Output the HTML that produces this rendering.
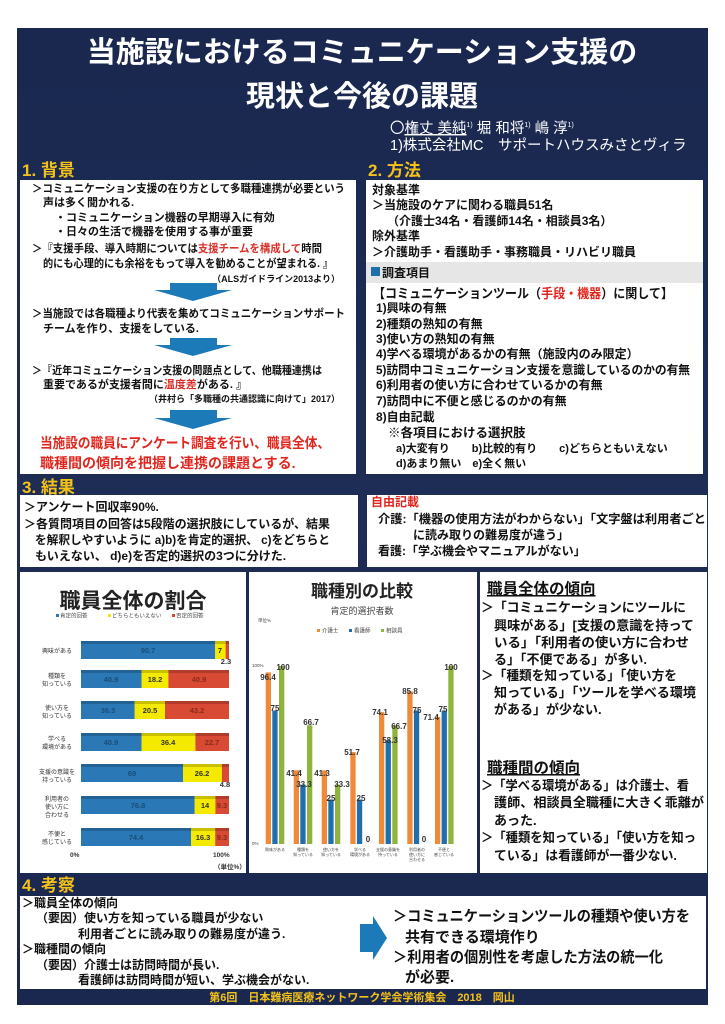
<!DOCTYPE html>
<html><head><meta charset="utf-8"><style>
html,body{margin:0;padding:0;background:#fff;}
svg{display:block;}
text{font-family:"Liberation Sans","Noto Sans CJK JP",sans-serif;}
.b{font-weight:bold;}
</style></head><body>
<svg width="725" height="1024" viewBox="0 0 725 1024" xmlns="http://www.w3.org/2000/svg">
<defs>
<linearGradient id="nv" x1="0" y1="0" x2="0" y2="1">
<stop offset="0" stop-color="#1a2850"/><stop offset="0.5" stop-color="#1e2d55"/><stop offset="1" stop-color="#1a2850"/>
</linearGradient>
</defs>
<rect x="0" y="0" width="725" height="1024" fill="#fff"/>
<rect x="17" y="28" width="691" height="977" fill="url(#nv)"/>

<!-- Title -->
<text x="362" y="62" font-size="29" fill="#fff" text-anchor="middle" class="b">当施設におけるコミュニケーション支援の</text>
<text x="362" y="106" font-size="29" fill="#fff" text-anchor="middle" class="b">現状と今後の課題</text>
<text x="390" y="133" font-size="14.5" fill="#fff">〇<tspan text-decoration="underline">権丈 美純</tspan><tspan font-size="7" dy="-6">1)</tspan><tspan dy="6"> 堀 和将</tspan><tspan font-size="7" dy="-6">1)</tspan><tspan dy="6"> 嶋 淳</tspan><tspan font-size="7" dy="-6">1)</tspan></text>
<text x="390" y="150" font-size="14.5" fill="#fff">1)株式会社MC　サポートハウスみさとヴィラ</text>

<!-- Section headers -->
<g fill="#f5c21a" font-size="17" class="b">
<text x="22" y="176">1. 背景</text>
<text x="368" y="176">2. 方法</text>
<text x="22" y="493">3. 結果</text>
<text x="22" y="891">4. 考察</text>
</g>

<!-- Section 1 box -->
<rect x="20" y="180" width="336" height="294" fill="#fff"/>
<g font-size="11" fill="#111" class="b">
<text x="32" y="192" textLength="313" lengthAdjust="spacingAndGlyphs">＞コミュニケーション支援の在り方として多職種連携が必要という</text>
<text x="43" y="206">声は多く聞かれる.</text>
<text x="55" y="221">・コミュニケーション機器の早期導入に有効</text>
<text x="55" y="235">・日々の生活で機器を使用する事が重要</text>
<text x="32" y="252" textLength="290" lengthAdjust="spacingAndGlyphs">＞『支援手段、導入時期については<tspan fill="#d9302a">支援チームを構成して</tspan>時間</text>
<text x="43" y="267" textLength="290" lengthAdjust="spacingAndGlyphs">的にも心理的にも余裕をもって導入を勧めることが望まれる. 』</text>
<text x="340" y="282" font-size="9" text-anchor="end">（ALSガイドライン2013より）</text>
<text x="32" y="317" textLength="313" lengthAdjust="spacingAndGlyphs">＞当施設では各職種より代表を集めてコミュニケーションサポート</text>
<text x="43" y="332">チームを作り、支援をしている.</text>
<text x="32" y="374" textLength="290" lengthAdjust="spacingAndGlyphs">＞『近年コミュニケーション支援の問題点として、他職種連携は</text>
<text x="43" y="388">重要であるが支援者間に<tspan fill="#d9302a">温度差</tspan>がある. 』</text>
<text x="340" y="402" font-size="9" text-anchor="end">（井村ら「多職種の共通認識に向けて」2017）</text>
<text x="40" y="448" font-size="14" fill="#e0261e" textLength="290" lengthAdjust="spacingAndGlyphs">当施設の職員にアンケート調査を行い、職員全体、</text>
<text x="40" y="468" font-size="14" fill="#e0261e">職種間の傾向を把握し連携の課題とする.</text>
</g>
<g fill="#1c7ab8">
<polygon points="170,283 217,283 217,290 232,290 193,301 154,290 170,290"/>
<polygon points="170,338 217,338 217,345 232,345 193,356 154,345 170,345"/>
<polygon points="170,410 217,410 217,418 232,418 193,429 154,418 170,418"/>
</g>

<!-- Section 2 box -->
<rect x="366" y="180" width="337" height="294" fill="#fff"/>
<rect x="366" y="262" width="337" height="21" fill="#e6e6e6"/>
<rect x="371" y="267" width="9" height="9" fill="#1f6fa8"/>
<g font-size="12" fill="#111" class="b">
<text x="372" y="194">対象基準</text>
<text x="372" y="209">＞当施設のケアに関わる職員51名</text>
<text x="387" y="225">（介護士34名・看護師14名・相談員3名）</text>
<text x="372" y="240">除外基準</text>
<text x="372" y="256">＞介護助手・看護助手・事務職員・リハビリ職員</text>
<text x="382" y="277">調査項目</text>
<text x="373" y="298" font-size="13" textLength="300" lengthAdjust="spacingAndGlyphs">【コミュニケーションツール（<tspan fill="#e0261e">手段・機器</tspan>）に関して】</text>
<text x="376" y="312">1)興味の有無</text>
<text x="376" y="328">2)種類の熟知の有無</text>
<text x="376" y="343">3)使い方の熟知の有無</text>
<text x="376" y="358">4)学べる環境があるかの有無（施設内のみ限定）</text>
<text x="376" y="374" textLength="314" lengthAdjust="spacingAndGlyphs">5)訪問中コミュニケーション支援を意識しているのかの有無</text>
<text x="376" y="389">6)利用者の使い方に合わせているかの有無</text>
<text x="376" y="405">7)訪問中に不便と感じるのかの有無</text>
<text x="376" y="421">8)自由記載</text>
<text x="388" y="437" font-size="12.5">※各項目における選択肢</text>
<text x="396" y="452" font-size="11">a)大変有り　　b)比較的有り　　c)どちらともいえない</text>
<text x="396" y="467" font-size="11">d)あまり無い　e)全く無い</text>
</g>

<!-- Section 3 boxes -->
<rect x="20" y="495" width="338" height="72" fill="#fff"/>
<rect x="367" y="495" width="340" height="72" fill="#fff"/>
<g font-size="12" fill="#111" class="b">
<text x="24" y="511">＞アンケート回収率90%.</text>
<text x="24" y="528" textLength="306" lengthAdjust="spacingAndGlyphs">＞各質問項目の回答は5段階の選択肢にしているが、結果</text>
<text x="35" y="544" textLength="295" lengthAdjust="spacingAndGlyphs">を解釈しやすいように a)b)を肯定的選択、 c)をどちらと</text>
<text x="35" y="560">もいえない、 d)e)を否定的選択の3つに分けた.</text>
<text x="371" y="506" fill="#e0261e">自由記載</text>
<text x="378" y="523" textLength="328" lengthAdjust="spacingAndGlyphs">介護:「機器の使用方法がわからない」「文字盤は利用者ごと</text>
<text x="413" y="539">に読み取りの難易度が違う」</text>
<text x="378" y="555">看護:「学ぶ機会やマニュアルがない」</text>
</g>

<!-- Chart panels -->
<rect x="20" y="572" width="226" height="301" fill="#fff"/>
<rect x="249" y="572" width="228" height="301" fill="#fff"/>
<rect x="480" y="572" width="227" height="301" fill="#fff"/>

<!-- Chart 1 -->
<text x="133" y="608" font-size="21" text-anchor="middle" fill="#222" class="b">職員全体の割合</text>
<g font-size="5.5" fill="#444">
<rect x="56" y="614" width="3" height="3" fill="#2a78b5"/><text x="60" y="617.5">肯定的回答</text>
<rect x="108" y="614" width="3" height="3" fill="#f3ea00"/><text x="112" y="617.5">どちらともいえない</text>
<rect x="172" y="614" width="3" height="3" fill="#d94a35"/><text x="176" y="617.5">否定的回答</text>
</g>
<g font-size="6" fill="#333" text-anchor="middle">
<text x="57" y="653">興味がある</text>
<text x="57" y="678">種類を</text><text x="57" y="686">知っている</text>
<text x="57" y="710">使い方を</text><text x="57" y="718">知っている</text>
<text x="57" y="741">学べる</text><text x="57" y="749">環境がある</text>
<text x="57" y="774">支援の意識を</text><text x="57" y="782">持っている</text>
<text x="57" y="801">利用者の</text><text x="57" y="809">使い方に</text><text x="57" y="817">合わせる</text>
<text x="57" y="836">不便と</text><text x="57" y="844">感じている</text>
</g>
<g font-size="7.5" class="b" text-anchor="middle">
<rect x="81" y="641" width="134.2" height="18" fill="#2a78b5"/><rect x="215.2" y="641" width="10.4" height="18" fill="#f3ea00"/><rect x="225.6" y="641" width="3.4" height="18" fill="#d94a35"/>
<rect x="81" y="641" width="148" height="3" fill="#000" opacity="0.18"/>
<text x="148" y="653" fill="#1a4e7a">90.7</text><text x="220" y="653" fill="#333">7</text><text x="226" y="664" fill="#333">2.3</text>
<rect x="81" y="670" width="60.5" height="18" fill="#2a78b5"/><rect x="141.5" y="670" width="26.9" height="18" fill="#f3ea00"/><rect x="168.4" y="670" width="60.6" height="18" fill="#d94a35"/>
<rect x="81" y="670" width="148" height="3" fill="#000" opacity="0.18"/>
<text x="111" y="682" fill="#1a4e7a">40.9</text><text x="155" y="682" fill="#333">18.2</text><text x="199" y="682" fill="#8a2a1a">40.9</text>
<rect x="81" y="701" width="53.7" height="18" fill="#2a78b5"/><rect x="134.7" y="701" width="30.3" height="18" fill="#f3ea00"/><rect x="165" y="701" width="64" height="18" fill="#d94a35"/>
<rect x="81" y="701" width="148" height="3" fill="#000" opacity="0.18"/>
<text x="108" y="713" fill="#1a4e7a">36.3</text><text x="150" y="713" fill="#333">20.5</text><text x="197" y="713" fill="#8a2a1a">43.2</text>
<rect x="81" y="733" width="60.5" height="18" fill="#2a78b5"/><rect x="141.5" y="733" width="53.9" height="18" fill="#f3ea00"/><rect x="195.4" y="733" width="33.6" height="18" fill="#d94a35"/>
<rect x="81" y="733" width="148" height="3" fill="#000" opacity="0.18"/>
<text x="111" y="745" fill="#1a4e7a">40.9</text><text x="168" y="745" fill="#333">36.4</text><text x="212" y="745" fill="#8a2a1a">22.7</text>
<rect x="81" y="764" width="102.1" height="18" fill="#2a78b5"/><rect x="183.1" y="764" width="38.8" height="18" fill="#f3ea00"/><rect x="221.9" y="764" width="7.1" height="18" fill="#d94a35"/>
<rect x="81" y="764" width="148" height="3" fill="#000" opacity="0.18"/>
<text x="132" y="776" fill="#1a4e7a">69</text><text x="202" y="776" fill="#333">26.2</text><text x="225" y="787" fill="#333">4.8</text>
<rect x="81" y="796" width="113.7" height="18" fill="#2a78b5"/><rect x="194.7" y="796" width="20.7" height="18" fill="#f3ea00"/><rect x="215.4" y="796" width="13.6" height="18" fill="#d94a35"/>
<rect x="81" y="796" width="148" height="3" fill="#000" opacity="0.18"/>
<text x="138" y="808" fill="#1a4e7a">76.8</text><text x="205" y="808" fill="#333">14</text><text x="222" y="808" fill="#8a2a1a">9.3</text>
<rect x="81" y="828" width="110.1" height="18" fill="#2a78b5"/><rect x="191.1" y="828" width="24.1" height="18" fill="#f3ea00"/><rect x="215.2" y="828" width="13.8" height="18" fill="#d94a35"/>
<rect x="81" y="828" width="148" height="3" fill="#000" opacity="0.18"/>
<text x="136" y="840" fill="#1a4e7a">74.4</text><text x="203" y="840" fill="#333">16.3</text><text x="222" y="840" fill="#8a2a1a">9.3</text>
</g>
<g font-size="6.5" fill="#333" class="b">
<text x="70" y="857">0%</text>
<text x="213" y="857">100%</text>
<text x="214" y="869">（単位%）</text>
</g>

<!-- Chart 2 -->
<text x="362" y="597" font-size="17" text-anchor="middle" fill="#222" class="b">職種別の比較</text>
<text x="362" y="614" font-size="9" text-anchor="middle" fill="#444">肯定的選択者数</text>
<text x="258" y="622" font-size="4.5" fill="#444">単位%</text>
<g font-size="5.5" fill="#444">
<rect x="317" y="629" width="3" height="3" fill="#ee8a3a"/><text x="322" y="632.5">介護士</text>
<rect x="349" y="629" width="3" height="3" fill="#1f6fae"/><text x="354" y="632.5">看護師</text>
<rect x="381" y="629" width="3" height="3" fill="#8fb33c"/><text x="386" y="632.5">相談員</text>
</g>
<text x="252" y="667" font-size="4.5" fill="#444">100%</text>
<text x="252" y="845" font-size="4.5" fill="#444">0%</text>
<g>
<rect x="265.7" y="672.4" width="5.3" height="171.6" fill="#ee8a3a"/><rect x="272.3" y="710.5" width="5.3" height="133.5" fill="#1f6fae"/><rect x="279" y="666" width="5.3" height="178" fill="#8fb33c"/>
<rect x="293.7" y="770.3" width="5.3" height="73.7" fill="#ee8a3a"/><rect x="300.3" y="784.7" width="5.3" height="59.3" fill="#1f6fae"/><rect x="307" y="725.3" width="5.3" height="118.7" fill="#8fb33c"/>
<rect x="321.7" y="770.5" width="5.3" height="73.5" fill="#ee8a3a"/><rect x="328.3" y="799.5" width="5.3" height="44.5" fill="#1f6fae"/><rect x="335" y="784.7" width="5.3" height="59.3" fill="#8fb33c"/>
<rect x="350.3" y="752" width="5.3" height="92" fill="#ee8a3a"/><rect x="356.9" y="799.5" width="5.3" height="44.5" fill="#1f6fae"/>
<rect x="379" y="712.1" width="5.3" height="131.9" fill="#ee8a3a"/><rect x="385.6" y="740.2" width="5.3" height="103.8" fill="#1f6fae"/><rect x="392.3" y="725.3" width="5.3" height="118.7" fill="#8fb33c"/>
<rect x="407.3" y="691.3" width="5.3" height="152.7" fill="#ee8a3a"/><rect x="413.9" y="710.5" width="5.3" height="133.5" fill="#1f6fae"/>
<rect x="435" y="716.9" width="5.3" height="127.1" fill="#ee8a3a"/><rect x="441.6" y="710.5" width="5.3" height="133.5" fill="#1f6fae"/><rect x="448.3" y="666" width="5.3" height="178" fill="#8fb33c"/>
</g>
<g font-size="8" fill="#333" class="b" text-anchor="middle">
<text x="268" y="680">96.4</text><text x="275" y="711">75</text><text x="283" y="670">100</text>
<text x="294" y="776">41.4</text><text x="304" y="787">33.3</text><text x="311" y="725">66.7</text>
<text x="322" y="776">41.3</text><text x="331" y="801">25</text><text x="342" y="787">33.3</text>
<text x="352" y="755">51.7</text><text x="361" y="801">25</text><text x="368" y="842">0</text>
<text x="380" y="715">74.1</text><text x="390" y="743">58.3</text><text x="399" y="729">66.7</text>
<text x="410" y="694">85.8</text><text x="417" y="713">75</text><text x="424" y="842">0</text>
<text x="431" y="720">71.4</text><text x="443" y="712">75</text><text x="451" y="670">100</text>
</g>
<g font-size="4" fill="#444" text-anchor="middle">
<text x="275" y="851">興味がある</text>
<text x="303" y="851">種類を</text><text x="303" y="856">知っている</text>
<text x="331" y="851">使い方を</text><text x="331" y="856">知っている</text>
<text x="360" y="851">学べる</text><text x="360" y="856">環境がある</text>
<text x="388" y="851">支援の意識を</text><text x="388" y="856">持っている</text>
<text x="417" y="851">利用者の</text><text x="417" y="856">使い方に</text><text x="417" y="861">合わせる</text>
<text x="444" y="851">不便と</text><text x="444" y="856">感じている</text>
</g>

<!-- Panel 3 -->
<g fill="#111" class="b">
<text x="487" y="594" font-size="15.5" text-decoration="underline">職員全体の傾向</text>
<g font-size="13">
<text x="481" y="612" textLength="205" lengthAdjust="spacingAndGlyphs">＞「コミュニケーションにツールに</text>
<text x="494" y="630" textLength="200" lengthAdjust="spacingAndGlyphs">興味がある」[支援の意識を持って</text>
<text x="494" y="647" textLength="195" lengthAdjust="spacingAndGlyphs">いる」「利用者の使い方に合わせ</text>
<text x="494" y="664">る」「不便である」が多い.</text>
<text x="481" y="680" textLength="196" lengthAdjust="spacingAndGlyphs">＞「種類を知っている」「使い方を</text>
<text x="494" y="697" textLength="202" lengthAdjust="spacingAndGlyphs">知っている」「ツールを学べる環境</text>
<text x="494" y="714">がある」が少ない.</text>
</g>
<text x="487" y="773" font-size="15.5" text-decoration="underline">職種間の傾向</text>
<g font-size="13">
<text x="481" y="790" textLength="208" lengthAdjust="spacingAndGlyphs">＞「学べる環境がある」は介護士、看</text>
<text x="494" y="807" textLength="210" lengthAdjust="spacingAndGlyphs">護師、相談員全職種に大きく乖離が</text>
<text x="494" y="825">あった.</text>
<text x="481" y="842" textLength="215" lengthAdjust="spacingAndGlyphs">＞「種類を知っている」「使い方を知っ</text>
<text x="494" y="860" textLength="183" lengthAdjust="spacingAndGlyphs">ている」は看護師が一番少ない.</text>
</g>
</g>

<!-- Section 4 -->
<rect x="20" y="896" width="686" height="93" fill="#fff"/>
<g fill="#111" class="b" font-size="12">
<text x="22" y="907">＞職員全体の傾向</text>
<text x="36" y="922">（要因）使い方を知っている職員が少ない</text>
<text x="78" y="938">利用者ごとに読み取りの難易度が違う.</text>
<text x="22" y="953">＞職種間の傾向</text>
<text x="36" y="969">（要因）介護士は訪問時間が長い.</text>
<text x="78" y="984">看護師は訪問時間が短い、学ぶ機会がない.</text>
</g>
<polygon points="360,924 373,924 373,916 387,938 373,960 373,952 360,952" fill="#1c7ab8"/>
<g fill="#111" class="b" font-size="15">
<text x="393" y="921" textLength="297" lengthAdjust="spacingAndGlyphs">＞コミュニケーションツールの種類や使い方を</text>
<text x="405" y="942">共有できる環境作り</text>
<text x="393" y="962" textLength="270" lengthAdjust="spacingAndGlyphs">＞利用者の個別性を考慮した方法の統一化</text>
<text x="405" y="982">が必要.</text>
</g>
<text x="362" y="1001" font-size="11" fill="#f5c21a" text-anchor="middle" class="b">第6回　日本難病医療ネットワーク学会学術集会　2018　岡山</text>
</svg>
</body></html>
